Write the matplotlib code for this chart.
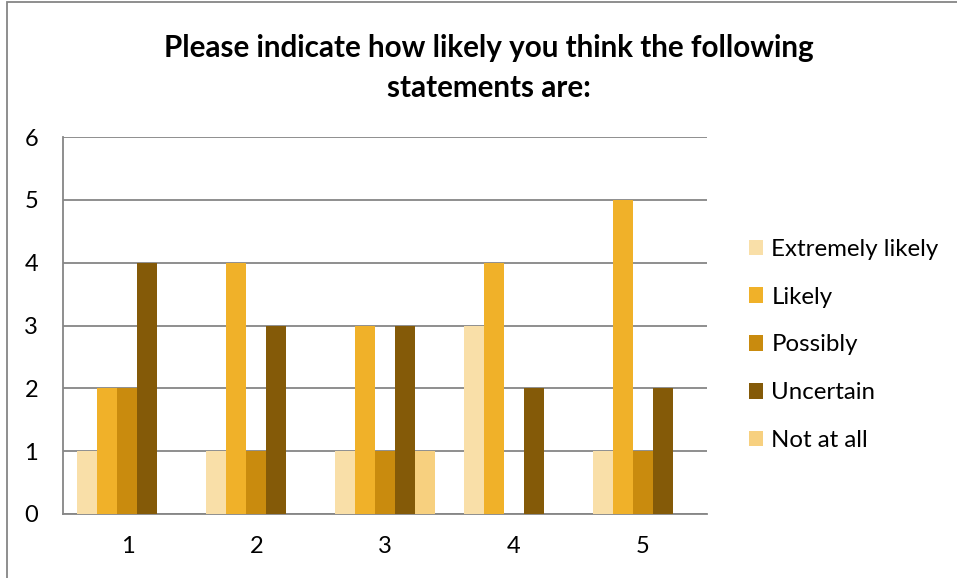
import numpy as np
import matplotlib.pyplot as plt
from matplotlib.patches import Rectangle

plt.rcParams['font.family'] = ['Lato', 'DejaVu Sans']

statements = ['1', '2', '3', '4', '5']
series = ['Extremely likely', 'Likely', 'Possibly', 'Uncertain', 'Not at all']
extremely = [1, 1, 1, 3, 1]
likely = [2, 4, 3, 4, 5]
possibly = [2, 1, 1, 0, 1]
uncertain = [4, 3, 3, 2, 2]
not_at_all = [0, 0, 1, 0, 0]
colors = ['#F9DFA8', '#F0B129', '#C98B0E', '#845A08', '#F7D07F']

W, H = 957, 578
fig = plt.figure(figsize=(W / 100, H / 100), dpi=100)
ax = fig.add_axes([63 / W, 1 - 514 / H, (707 - 63) / W, (514 - 137) / H])

x = np.arange(len(statements))
bw = 0.155
for i, (vals, name) in enumerate(zip([extremely, likely, possibly, uncertain, not_at_all], series)):
    ax.bar(x + (i - 2) * bw, vals, bw, color=colors[i], label=name, zorder=3)

ax.set_xlim(-0.5, 4.5)
ax.set_ylim(0, 6)
ax.set_yticks(range(7))
ax.set_xticks(x)
ax.set_xticklabels(statements)
ax.grid(axis='y', color='#868686', linewidth=1.3, zorder=0)
for s in ['top', 'right']:
    ax.spines[s].set_visible(False)
for s in ['left', 'bottom']:
    ax.spines[s].set_color('#868686')
    ax.spines[s].set_linewidth(1.3)
ax.tick_params(length=0, labelsize=17, pad=18)
ax.tick_params(axis='x', pad=16)

fig.text(489 / W, 1 - 48 / H, 'Please indicate how likely you think the following',
         ha='center', va='center', fontsize=21.3, fontweight='bold')
fig.text(489 / W, 1 - 88 / H, 'statements are:',
         ha='center', va='center', fontsize=21.3, fontweight='bold')

leg = fig.legend(loc='upper left', bbox_to_anchor=(739 / W, 1 - 229 / H), frameon=False,
                 fontsize=17.3, handlelength=0.6, handleheight=0.6, handletextpad=0.35,
                 labelspacing=1.12, borderaxespad=0)

fig.patches.append(Rectangle((7 / W, -0.1), 1.2, 1 - 2 / H + 0.1, transform=fig.transFigure,
                             fill=False, edgecolor='#868686', linewidth=1.3))

fig.savefig('out.png', dpi=100)
